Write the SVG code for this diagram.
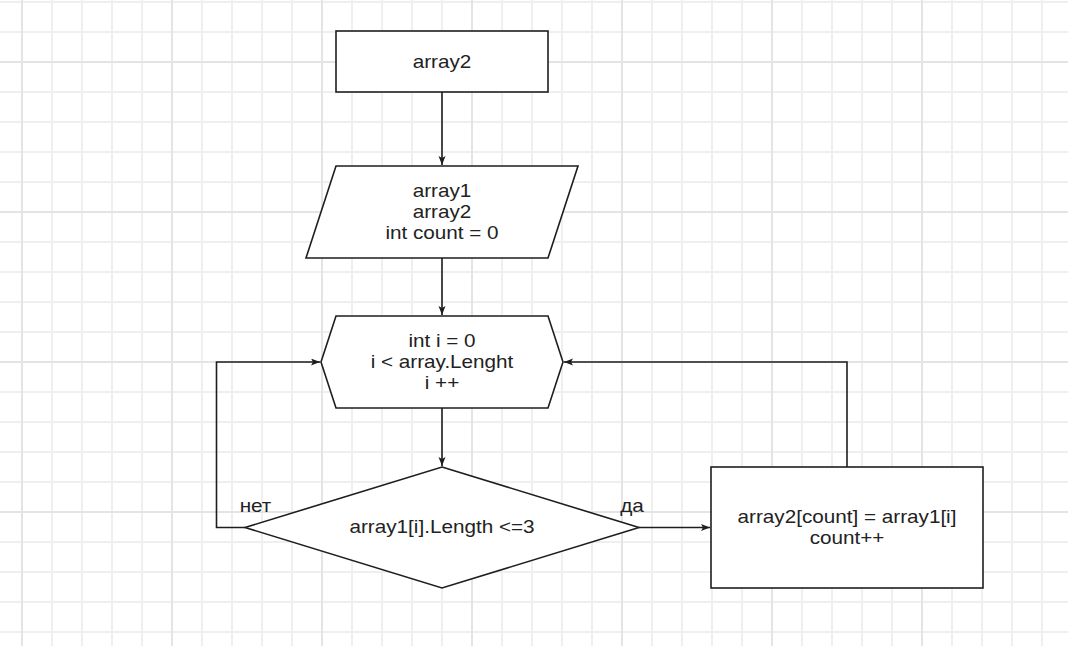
<svg xmlns="http://www.w3.org/2000/svg" width="1068" height="646" viewBox="0 0 1068 646">
<style>
.minor{stroke:#efefef;stroke-width:2}
.major{stroke:#e4e4e4;stroke-width:2}
.shape{fill:#ffffff;stroke:#1e1e1e;stroke-width:1.6}
.edge{fill:none;stroke:#1e1e1e;stroke-width:1.6}
.t{font-family:"Liberation Sans",Arial,sans-serif;font-size:18px;fill:#222222;text-anchor:middle}
</style>
<defs>
<marker id="arr" markerUnits="userSpaceOnUse" markerWidth="10" markerHeight="8" refX="9" refY="3.5" orient="auto">
<path d="M0,0 L9,3.5 L0,7 L2,3.5 z" fill="#1e1e1e"/>
</marker>
<pattern id="gminor" patternUnits="userSpaceOnUse" x="21" y="1" width="30" height="30">
<path d="M0,1 H30 M1,0 V30" class="minor"/>
</pattern>
<pattern id="gmajor" patternUnits="userSpaceOnUse" x="21" y="61" width="150" height="150">
<path d="M0,1 H150 M1,0 V150" class="major"/>
</pattern>
</defs>
<rect width="1068" height="646" fill="#ffffff"/>
<rect width="1068" height="646" fill="url(#gminor)"/>
<rect width="1068" height="646" fill="url(#gmajor)"/>

<g id="connectors">
<path class="edge" d="M442,92 V165" marker-end="url(#arr)"/>
<path class="edge" d="M442,258 V315" marker-end="url(#arr)"/>
<path class="edge" d="M442,408 V466" marker-end="url(#arr)"/>
<path class="edge" d="M245,527.5 H216.5 V362 H320" marker-end="url(#arr)"/>
<path class="edge" d="M639,527.5 H710" marker-end="url(#arr)"/>
<path class="edge" d="M847,467 V362 H564" marker-end="url(#arr)"/>
<g transform="translate(255.5,0) scale(1.15,1)"><text class="t" x="0" y="512">нет</text></g>
<g transform="translate(632,0) scale(1.15,1)"><text class="t" x="0" y="512">да</text></g>
</g>

<g id="start">
<rect class="shape" x="336" y="31" width="212" height="61"/>
<g transform="translate(442,0) scale(1.15,1)"><text class="t" x="0" y="68">array2</text></g>
</g>

<g id="input">
<polygon class="shape" points="336,166 578,166 548,258 306,258"/>
<g transform="translate(442,0) scale(1.15,1)">
<text class="t" x="0" y="197">array1</text>
<text class="t" x="0" y="218">array2</text>
<text class="t" x="0" y="239">int count = 0</text>
</g>
</g>

<g id="loop">
<polygon class="shape" points="336,316 548,316 563,362 548,408 336,408 321,362"/>
<g transform="translate(442,0) scale(1.15,1)">
<text class="t" x="0" y="347">int i = 0</text>
<text class="t" x="0" y="368">i &lt; array.Lenght</text>
<text class="t" x="0" y="389">i ++</text>
</g>
</g>

<g id="decision">
<polygon class="shape" points="442,467 639,527.5 442,588 245,527.5"/>
<g transform="translate(442,0) scale(1.15,1)"><text class="t" x="0" y="533">array1[i].Length &lt;=3</text></g>
</g>

<g id="assign">
<rect class="shape" x="711" y="467" width="272" height="121"/>
<g transform="translate(847,0) scale(1.15,1)">
<text class="t" x="0" y="523">array2[count] = array1[i]</text>
<text class="t" x="0" y="544">count++</text>
</g>
</g>
</svg>
